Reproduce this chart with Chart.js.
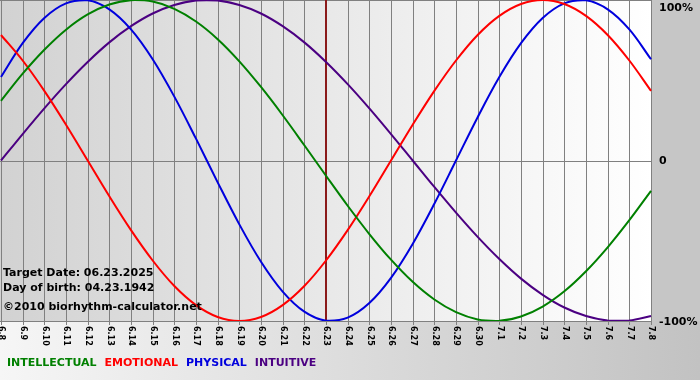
<!DOCTYPE html>
<html>
<head>
<meta charset="utf-8">
<script src="https://cdn.jsdelivr.net/npm/chart.js@4/dist/chart.umd.min.js"></script>
<style>
  html, body { margin: 0; padding: 0; background: #fff; }
  canvas { display: block; }
</style>
</head>
<body>
<canvas id="bio" width="700" height="380"></canvas>
<script>
// days shown, 6.8 .. 7.8
const days = ['6.8','6.9','6.10','6.11','6.12','6.13','6.14','6.15','6.16','6.17','6.18','6.19','6.20','6.21','6.22','6.23',
  '6.24','6.25','6.26','6.27','6.28','6.29','6.30','7.1','7.2','7.3','7.4','7.5','7.6','7.7','7.8'];
const targetDay = '6.23';

// cycle values in percent, one per day
const intellectual = [37.2, 54.1, 69.0, 81.5, 91.0, 97.2, 99.9, 99.0, 94.5, 86.6, 75.6, 61.8, 45.8, 28.2, 9.5, -9.5,
  -28.2, -45.8, -61.8, -75.6, -86.6, -94.5, -99.0, -99.9, -97.2, -91.0, -81.5, -69.0, -54.1, -37.2, -18.9];
const emotional = [78.2, 62.3, 43.4, 22.3, 0, -22.3, -43.4, -62.3, -78.2, -90.1, -97.5, -100, -97.5, -90.1, -78.2, -62.3,
  -43.4, -22.3, 0, 22.3, 43.4, 62.3, 78.2, 90.1, 97.5, 100, 97.5, 90.1, 78.2, 62.3, 43.4];
const physical = [52.0, 73.1, 88.8, 97.9, 99.8, 94.2, 81.7, 63.1, 39.8, 13.6, -13.6, -39.8, -63.1, -81.7, -94.2, -99.8,
  -97.9, -88.8, -73.1, -52.0, -27.0, 0, 27.0, 52.0, 73.1, 88.8, 97.9, 99.8, 94.2, 81.7, 63.1];
const intuitive = [0, 16.5, 32.5, 47.6, 61.4, 73.6, 83.7, 91.6, 96.9, 99.7, 99.7, 96.9, 91.6, 83.7, 73.6, 61.4,
  47.6, 32.5, 16.5, 0, -16.5, -32.5, -47.6, -61.4, -73.6, -83.7, -91.6, -96.9, -99.7, -99.7, -96.9];

const yTicks = [100, 0, -100];
const yTickText = ['100%', '0', '-100%'];
const infoLines = ['Target Date: 06.23.2025', 'Day of birth: 04.23.1942', '\u00a92010 biorhythm-calculator.net'];

const legendItems = [
  { text: 'INTELLECTUAL', color: '#008000' },
  { text: 'EMOTIONAL', color: '#ff0000' },
  { text: 'PHYSICAL', color: '#0000dd' },
  { text: 'INTUITIVE', color: '#4b0082' }
];

const FONT = '"DejaVu Sans", Verdana, sans-serif';

const bioPlugin = {
  id: 'bioDecor',
  beforeDraw(chart) {
    const { ctx, chartArea: a, width, height, scales } = chart;
    ctx.save();
    // page background: light on the left, grey on the right
    let g = ctx.createLinearGradient(0, 0, width, 0);
    g.addColorStop(0, '#f6f6f6');
    g.addColorStop(1, '#c2c2c2');
    ctx.fillStyle = g;
    ctx.fillRect(0, 0, width, height);
    ctx.fillStyle = '#c6c6c6';
    ctx.fillRect(a.right, 0, width - a.right, a.bottom);

    // plot background: grey on the left, white on the right
    g = ctx.createLinearGradient(a.left, 0, a.right, 0);
    g.addColorStop(0, '#d2d2d2');
    g.addColorStop(1, '#ffffff');
    ctx.fillStyle = g;
    ctx.fillRect(0, a.top, a.right, a.bottom - a.top);

    // vertical day lines + little ticks
    const x = scales.x, y = scales.y;
    ctx.strokeStyle = '#808080';
    ctx.lineWidth = 1;
    ctx.beginPath();
    days.forEach((d, i) => {
      const px = Math.round(x.getPixelForValue(i)) + 0.5;
      ctx.moveTo(px, a.top);
      ctx.lineTo(px, a.bottom + 4);
    });
    yTicks.forEach(v => {
      const py = Math.round(y.getPixelForValue(v)) + 0.5;
      ctx.moveTo(0, py);
      ctx.lineTo(a.right + 1, py);
    });
    ctx.stroke();

    // target day marker
    const tx = Math.round(x.getPixelForValue(days.indexOf(targetDay)));
    ctx.fillStyle = '#8b1a1a';
    ctx.fillRect(tx - 1, a.top, 2, a.bottom - a.top);

    // day labels, turned clockwise
    ctx.fillStyle = '#000';
    ctx.font = 'bold 8px ' + FONT;
    ctx.textAlign = 'left';
    ctx.textBaseline = 'middle';
    days.forEach((d, i) => {
      const px = x.getPixelForValue(i);
      ctx.save();
      ctx.translate(px + 0.5, a.bottom + 5);
      ctx.rotate(Math.PI / 2);
      ctx.fillText(d, 0, 0);
      ctx.restore();
    });

    // percent labels on the right
    ctx.font = 'bold 11px ' + FONT;
    yTicks.forEach((v, i) => {
      const py = Math.max(y.getPixelForValue(v), 7);
      ctx.fillText(yTickText[i], a.right + 8, py + 1);
    });

    // legend
    ctx.textBaseline = 'alphabetic';
    let lx = 7;
    legendItems.forEach(it => {
      ctx.fillStyle = it.color;
      ctx.fillText(it.text, lx, 366);
      lx += ctx.measureText(it.text).width + 8;
    });
    ctx.restore();
  },
  afterDatasetsDraw(chart) {
    const { ctx } = chart;
    ctx.save();
    ctx.fillStyle = '#000';
    ctx.font = 'bold 11px ' + FONT;
    ctx.textAlign = 'left';
    ctx.textBaseline = 'alphabetic';
    ctx.fillText(infoLines[0], 3, 276);
    ctx.fillText(infoLines[1], 3, 291);
    ctx.fillText(infoLines[2], 3, 310);
    ctx.restore();
  }
};

const mkSet = (label, data, color) => ({
  label, data,
  borderColor: color,
  borderWidth: 2,
  pointRadius: 0,
  tension: 0.35,
  fill: false
});

new Chart(document.getElementById('bio'), {
  type: 'line',
  data: {
    labels: days,
    datasets: [
      mkSet('INTELLECTUAL', intellectual, '#008000'),
      mkSet('EMOTIONAL', emotional, '#ff0000'),
      mkSet('PHYSICAL', physical, '#0000dd'),
      mkSet('INTUITIVE', intuitive, '#4b0082')
    ]
  },
  options: {
    responsive: false,
    devicePixelRatio: 1,
    animation: false,
    layout: { padding: { left: 1, right: 49, top: 0, bottom: 59 } },
    plugins: { legend: { display: false }, tooltip: { enabled: false } },
    scales: {
      x: { display: false, offset: false },
      y: { display: false, min: -100, max: 100 }
    }
  },
  plugins: [bioPlugin]
});
</script>
</body>
</html>
